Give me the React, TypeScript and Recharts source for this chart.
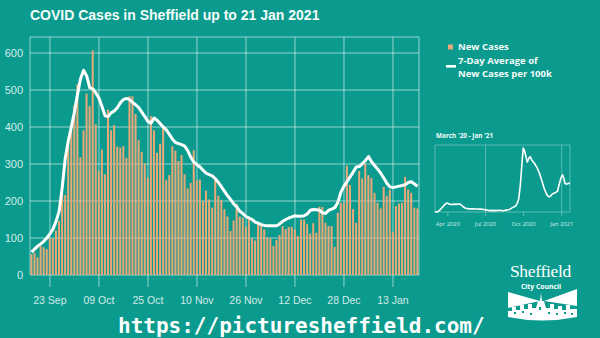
import { Bar, CartesianGrid, ComposedChart, Line, LineChart, XAxis, YAxis } from 'recharts'

// daily categories 17 Sep 2020 .. 21 Jan 2021
const MONTH_SPANS: [string, number, number][] = [
  ['Sep', 17, 30],
  ['Oct', 1, 31],
  ['Nov', 1, 30],
  ['Dec', 1, 31],
  ['Jan', 1, 21],
]
const DATES: string[] = MONTH_SPANS.flatMap(([m, from, to]) => {
  const out: string[] = []
  for (let d = from; d <= to; d++) out.push(`${String(d).padStart(2, '0')} ${m}`)
  return out
})

const X_TICKS = ['23 Sep', '09 Oct', '25 Oct', '10 Nov', '26 Nov', '12 Dec', '28 Dec', '13 Jan']
const Y_TICKS = [0, 100, 200, 300, 400, 500, 600]

const NEW_CASES = [
  56, 60, 48, 78, 75, 70, 99, 99, 120, 146, 250, 216, 364, 391, 459, 515, 318, 391, 490, 456, 607,
  407, 281, 339, 272, 447, 391, 405, 347, 344, 348, 317, 483, 483, 435, 364, 333, 302, 263, 429, 391,
  330, 355, 400, 256, 270, 348, 336, 308, 324, 272, 234, 249, 337, 256,
  258, 200, 228, 204, 182, 259, 214, 202, 178, 158, 119, 147, 192, 158, 155, 130, 158, 99, 93, 140,
  135, 123, 102, 99, 78,
  95, 108, 132, 124, 130, 130, 123, 105, 150, 150, 137, 112, 140, 114, 184, 184, 141, 132, 132, 76,
  168, 195, 195,
  295, 243, 178, 141, 281, 261, 300, 270, 262, 222, 195, 180, 238, 214, 230, 117, 186, 193, 195, 265,
  231, 222, 182, 180,
]

const AVG_7DAY = [
  62, 70, 78, 84, 91, 100, 111, 124, 145, 172, 235, 315, 362, 400, 440, 488, 530, 553, 538, 506,
  503, 492, 478, 455, 430, 428, 438, 443, 452, 465, 474, 477, 474, 466, 460, 452, 440, 428, 415, 410,
  424, 418, 409, 400, 392, 380, 367, 358, 355, 352, 348, 336, 318, 305, 298, 292, 283, 275, 271, 268,
  260, 250,
  238, 226, 214, 204, 192, 184, 172, 166, 158, 154, 150, 143, 140, 136, 134, 133, 133, 133, 133, 138,
  145, 150, 154, 157, 160, 159, 159, 160, 165, 175, 177, 176, 175, 168, 166, 175, 178, 182, 196, 224,
  240, 252, 265, 278, 292, 293, 301, 309, 320, 306, 296, 286, 275, 262, 248, 238, 236, 238, 240, 242,
  244, 250, 252, 246, 240,
]

// inset: days since 1 Mar 2020
const INSET_DAYS = [
  0, 8, 14, 20, 26, 30, 34, 40, 46, 52, 58, 62, 68, 74, 82, 90, 100, 110, 118, 124, 132, 140, 148,
  156, 164, 172, 180, 188, 194, 198, 202, 206, 210, 213, 216, 220, 223, 227, 230, 234, 240, 246, 252,
  258, 264, 270, 274, 278, 284, 290, 296, 300, 304, 308, 311, 314, 318, 322, 326,
]
const INSET_AVG = [
  0, 5, 25, 50, 72, 77, 68, 65, 68, 66, 70, 64, 45, 32, 27, 28, 26, 25, 22, 18, 12, 14, 12,
  15, 11, 16, 22, 40, 50, 70, 110, 230, 420, 550, 530, 470, 430, 465, 478, 445, 420, 385, 335,
  270, 200, 150, 132, 133, 158, 165, 180, 240, 292, 320, 290, 245, 240, 248, 245,
]
const INSET_TICKS = [31, 122, 214, 306]
const INSET_TICK_LABELS = ['Apr 2020', 'Jul 2020', 'Oct 2020', 'Jan 2021']

const BG = '#0a9b8e'
const GRID = 'rgba(255,255,255,0.38)'
const BAR = '#eaa878'
const TICK_TEXT = '#d5ebe8'
const WHITE = '#f4fbfa'

const mainData = DATES.map((date, i) => ({ date, cases: NEW_CASES[i], avg: AVG_7DAY[i] }))
const insetData = INSET_DAYS.map((day, i) => ({ day, avg: INSET_AVG[i] }))

export default function App() {
  return (
    <div
      style={{
        position: 'fixed',
        left: 0,
        top: 0,
        width: 600,
        height: 338,
        background: BG,
        overflow: 'hidden',
      }}
    >
      <div style={{ position: 'absolute', left: 0, top: 0 }}>
        <ComposedChart
          width={600}
          height={338}
          data={mainData}
          margin={{ top: 37, right: 181, bottom: 33, left: 0 }}
          barCategoryGap="14%"
        >
          <CartesianGrid stroke={GRID} strokeWidth={1.5} />
          <XAxis
            dataKey="date"
            ticks={X_TICKS}
            interval={0}
            height={30}
            axisLine={false}
            tickSize={12}
            tickMargin={10}
            tickLine={{ stroke: GRID, strokeWidth: 1.5 }}
            tick={{ fill: TICK_TEXT, fontSize: 10.5, fontFamily: 'Liberation Sans' }}
          />
          <YAxis
            domain={[0, 643]}
            ticks={Y_TICKS}
            width={30}
            axisLine={false}
            tickLine={false}
            tickSize={0}
            tickMargin={7}
            tick={{ fill: TICK_TEXT, fontSize: 11, fontFamily: 'Liberation Sans' }}
          />
          <Bar dataKey="cases" fill={BAR} isAnimationActive={false} />
          <Line
            type="linear"
            dataKey="avg"
            stroke="#ffffff"
            strokeWidth={3}
            strokeLinejoin="round"
            dot={false}
            isAnimationActive={false}
          />
        </ComposedChart>
      </div>

      <div style={{ position: 'absolute', left: 420, top: 125 }}>
        <LineChart
          width={170}
          height={110}
          data={insetData}
          margin={{ top: 20, right: 20, bottom: 5, left: 15 }}
        >
          <CartesianGrid stroke="rgba(255,255,255,0.32)" strokeWidth={1} />
          <XAxis
            dataKey="day"
            type="number"
            domain={[0, 326]}
            ticks={INSET_TICKS}
            tickFormatter={(v) => INSET_TICK_LABELS[INSET_TICKS.indexOf(Number(v))] ?? ''}
            height={18}
            axisLine={false}
            tickSize={4}
            tickMargin={6}
            tickLine={{ stroke: 'rgba(255,255,255,0.32)' }}
            tick={{ fill: TICK_TEXT, fontSize: 5.8, fontFamily: 'Open Sans' }}
          />
          <YAxis
            domain={[0, 577]}
            ticks={[0, 100, 200, 300, 400, 500]}
            width={0}
            tick={false}
            axisLine={false}
            tickLine={false}
          />
          <Line
            type="linear"
            dataKey="avg"
            stroke="#ffffff"
            strokeWidth={1.6}
            strokeLinejoin="round"
            dot={false}
            isAnimationActive={false}
          />
        </LineChart>
      </div>

      <svg
        width={600}
        height={338}
        style={{ position: 'absolute', left: 0, top: 0, pointerEvents: 'none' }}
      >
        <text x={30} y={19.5} fill={WHITE} fontSize={14} fontWeight={700} fontFamily="Liberation Sans">
          COVID Cases in Sheffield up to 21 Jan 2021
        </text>

        {/* legend */}
        <rect x={448} y={44.5} width={5} height={5} fill={BAR} />
        <text x={458} y={50.3} fill={WHITE} fontSize={9.5} fontWeight={700} fontFamily="Open Sans">
          New Cases
        </text>
        <rect x={446} y={65} width={10} height={2.6} fill="#ffffff" />
        <text x={458} y={64.3} fill={WHITE} fontSize={9.5} fontWeight={700} fontFamily="Open Sans">
          7-Day Average of
        </text>
        <text x={458} y={76.5} fill={WHITE} fontSize={9.5} fontWeight={700} fontFamily="Open Sans">
          New Cases per 100k
        </text>

        <text x={436} y={138} fill={WHITE} fontSize={6.4} fontWeight={700} fontFamily="Open Sans">
          March '20 - Jan '21
        </text>

        {/* council logo */}
        <g transform="translate(500,255)">
          <text
            x={40.5}
            y={21.5}
            textAnchor="middle"
            fill="#ffffff"
            fontSize={17.5}
            fontFamily="Liberation Serif"
            letterSpacing={-0.3}
          >
            Sheffield
          </text>
          <text
            x={41}
            y={34}
            textAnchor="middle"
            fill="#ffffff"
            fontSize={6.8}
            fontWeight={700}
            fontFamily="Open Sans"
          >
            City Council
          </text>
          <polygon points="8,37 40,46 8,53" fill="#ffffff" />
          <polygon points="77,34 44,46 77,51" fill="#ffffff" />
          <path
            d="M8,56 L12,56 L12,52 L16,52 L16,55 L20,55 L20,50 L24,50 L24,54 L28,54 L28,49 L32,49 L32,53 L36,53 L38,46 L40,46 L41,38 L42,46 L44,46 L46,53 L50,53 L50,49 L54,49 L54,54 L58,54 L58,51 L62,51 L62,55 L66,55 L66,50 L70,50 L70,54 L77,54 L77,62 Q42,69 8,62 Z"
            fill="#ffffff"
          />
          <rect x={14} y={57} width={2} height={2} fill={BG} />
          <rect x={22} y={56} width={2} height={2} fill={BG} />
          <rect x={30} y={58} width={2} height={2} fill={BG} />
          <rect x={39} y={52} width={2} height={3} fill={BG} />
          <rect x={48} y={57} width={2} height={2} fill={BG} />
          <rect x={56} y={58} width={2} height={2} fill={BG} />
          <rect x={64} y={57} width={2} height={2} fill={BG} />
          <rect x={71} y={58} width={2} height={2} fill={BG} />
        </g>

        <text
          x={118}
          y={333}
          fill="#ffffff"
          fontSize={21}
          fontWeight={700}
          fontFamily="DejaVu Sans Mono"
        >
          https://picturesheffield.com/
        </text>
      </svg>
    </div>
  )
}
